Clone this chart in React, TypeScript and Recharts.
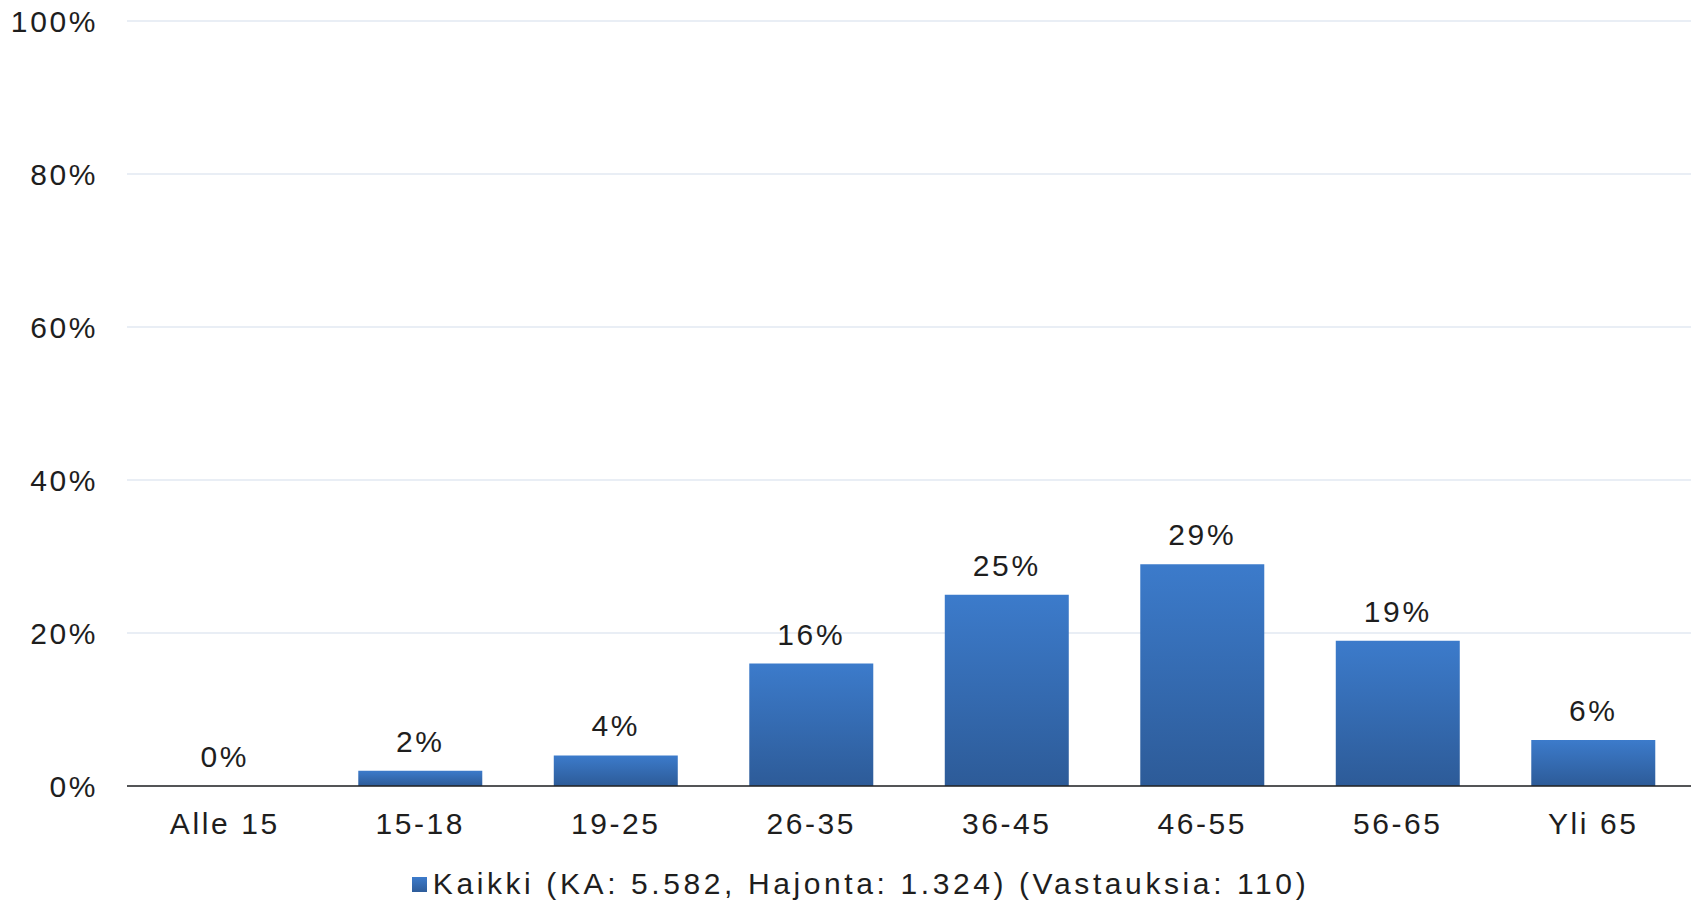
import React from 'react';
import { ComposedChart, Bar, Line, XAxis, YAxis, CartesianGrid, Legend, LabelList } from 'recharts';

const categories = ['Alle 15', '15-18', '19-25', '26-35', '36-45', '46-55', '56-65', 'Yli 65'];
const kaikkiValues = [0, 2, 4, 16, 25, 29, 19, 6];
const yTicks = [0, 20, 40, 60, 80, 100];
const seriesName = 'Kaikki (KA: 5.582, Hajonta: 1.324) (Vastauksia: 110)';

const data = categories.map((name, i) => ({ name, value: kaikkiValues[i] }));

const FONT = 'Arial, "Liberation Sans", sans-serif';
const TEXT = '#1e1e1e';
const tickStyle = { fill: TEXT, fontSize: 30, fontFamily: FONT, letterSpacing: 2.6 };

const LegendContent = () => (
  <div
    style={{
      height: 40,
      display: 'flex',
      alignItems: 'center',
      justifyContent: 'center',
      fontFamily: FONT,
      fontSize: 30,
      letterSpacing: 3.6,
      color: TEXT,
      paddingLeft: 30,
    }}
  >
    <span
      style={{
        display: 'inline-block',
        width: 15,
        height: 15,
        marginRight: 6,
        background: 'linear-gradient(#3d7bcb, #2e5c9a)',
      }}
    />
    <span>{seriesName}</span>
  </div>
);

export default function App() {
  return (
    <div style={{ position: 'absolute', left: 0, top: 0, background: '#fff' }}>
      <ComposedChart
        width={1698}
        height={904}
        data={data}
        margin={{ top: 21, right: 7, bottom: 0, left: 0 }}
        barCategoryGap="18.3%"
      >
        <defs>
          <linearGradient id="barFill" x1="0" y1="0" x2="0" y2="1">
            <stop offset="0%" stopColor="#3c7bcb" />
            <stop offset="100%" stopColor="#2d5b98" />
          </linearGradient>
        </defs>
        <CartesianGrid vertical={false} stroke="#e2e9f2" strokeWidth={1.5} />
        <XAxis
          dataKey="name"
          height={78}
          tickLine={false}
          tickSize={0}
          tickMargin={27}
          axisLine={{ stroke: '#222', strokeWidth: 1.5 }}
          tick={tickStyle}
        />
        <YAxis
          width={127}
          domain={[0, 100]}
          ticks={yTicks}
          tickFormatter={(v: number) => `${v}%`}
          axisLine={false}
          tickLine={false}
          tickSize={0}
          tickMargin={29}
          tick={tickStyle}
        />
        <Legend verticalAlign="bottom" content={<LegendContent />} />
        <Bar dataKey="value" name={seriesName} fill="url(#barFill)" isAnimationActive={false} />
        {/* invisible series only to carry the value labels (zero bars drop their label) */}
        <Line
          dataKey="value"
          stroke="none"
          dot={false}
          activeDot={false}
          legendType="none"
          isAnimationActive={false}
        >
          <LabelList
            dataKey="value"
            position="top"
            offset={19}
            formatter={(v: number) => `${v}%`}
            style={tickStyle}
          />
        </Line>
      </ComposedChart>
    </div>
  );
}
